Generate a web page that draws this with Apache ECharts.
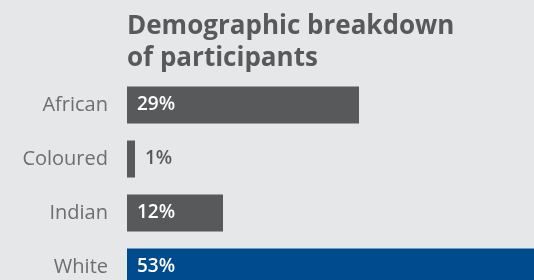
<!DOCTYPE html>
<html>
<head>
<meta charset="utf-8">
<script src="https://cdn.jsdelivr.net/npm/echarts@6/dist/echarts.min.js"></script>
<style>
html,body{margin:0;padding:0;background:#e6e7e8;}
#chart{width:534px;height:280px;}
</style>
</head>
<body>
<div id="chart"></div>
<script>
const categories = ["African", "Coloured", "Indian", "White"];
const values = [29, 1, 12, 53];
const valueLabels = ["29%", "1%", "12%", "53%"];
const titleText = "Demographic breakdown\nof participants";

const barColors = ["#58595b", "#58595b", "#58595b", "#004b8d"];

const chart = echarts.init(document.getElementById('chart'), null, {renderer: 'canvas'});
const data = values.map((v, i) => {
  const small = v < 5;
  return {
    value: v,
    itemStyle: {color: barColors[i]},
    label: small ? {position: 'right', color: '#58595b', distance: 10} : {position: 'insideLeft', color: '#ffffff', distance: 10}
  };
});
chart.setOption({
  backgroundColor: '#e6e7e8',
  animation: false,
  title: {
    text: titleText,
    left: 122,
    top: 6,
    textStyle: {fontFamily: 'Open Sans', fontSize: 26, fontWeight: 'bold', color: '#58595b', lineHeight: 32}
  },
  grid: {left: 127, top: 78, width: 440, height: 216, containLabel: false, outerBoundsMode: 'none'},
  xAxis: {type: 'value', min: 0, max: 55, show: false},
  yAxis: {
    type: 'category', data: categories, inverse: true,
    axisLine: {show: false}, axisTick: {show: false},
    axisLabel: {fontFamily: 'Open Sans', fontSize: 20, color: '#6d6e70', margin: 19}
  },
  series: [{
    type: 'bar', data: data, barWidth: 37, clip: false,
    label: {show: true, fontFamily: 'Open Sans', fontSize: 19, fontWeight: 600,
      formatter: p => valueLabels[p.dataIndex]}
  }]
});
</script>
</body>
</html>
